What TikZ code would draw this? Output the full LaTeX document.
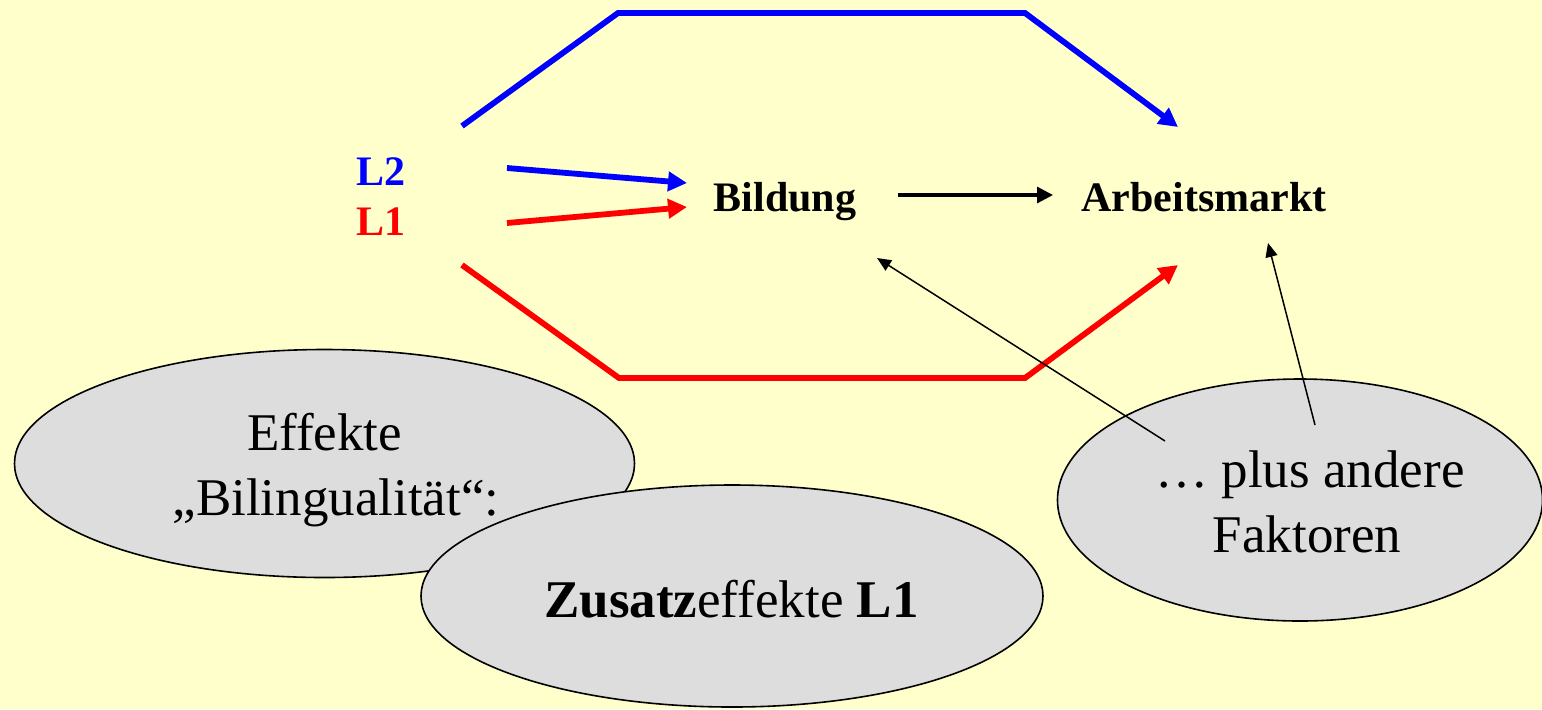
\documentclass[tikz,border=0pt]{standalone}
\usepackage{fontspec}
\setmainfont{Liberation Serif}
\usetikzlibrary{arrows.meta}
\definecolor{bgyellow}{HTML}{FFFFCC}
\definecolor{ellgray}{HTML}{DDDDDD}
\definecolor{myblue}{HTML}{0000FF}
\definecolor{myred}{HTML}{FF0000}
\tikzset{
  lbl/.style={font=\fontsize{21}{25}\selectfont\bfseries, inner sep=0pt, anchor=base},
  elltext/.style={font=\fontsize{26.5}{32}\selectfont, inner sep=0pt, anchor=base},
  ellshape/.style={fill=ellgray, draw=black, line width=0.8pt},
  thickpath/.style={line width=2.9pt, line join=miter, -{Triangle[length=9.5pt,width=9.5pt]}},
  medarrow/.style={line width=1.6pt, -{Triangle[length=8pt,width=8pt]}},
  thinarrow/.style={line width=0.75pt, -{Triangle[length=7pt,width=6pt]}}
}
\begin{document}
\begin{tikzpicture}[x=0.5pt,y=-0.5pt]
\fill[bgyellow] (0,0) rectangle (1542,709);
\useasboundingbox (0,0) rectangle (1542,709);

% ellipses
\path[ellshape] (324.5,463.5) ellipse [x radius=310, y radius=114];
\path[ellshape] (732,596) ellipse [x radius=311, y radius=111];
\path[ellshape] (1300,500) ellipse [x radius=242.5, y radius=121];

% labels
\node[lbl, text=myblue] (L2) at (381,185) {L2};
\node[lbl, text=myred] (L1) at (381,235) {L1};
\node[lbl] (bild) at (785,211) {Bildung};
\node[lbl] (arbeit) at (1204,211) {Arbeitsmarkt};

% ellipse texts
\node[elltext] (eff1) at (324.5,450) {Effekte};
\node[elltext] (eff2) at (336,515) {„Bilingualität“:};
\node[elltext] (zus) at (731.5,617) {\textbf{Zusatz}effekte \textbf{L1}};
\node[elltext] (plus1) at (1310,487) {… plus andere};
\node[elltext] (plus2) at (1307,552) {Faktoren};

% connector end points
\coordinate (bs) at (462,126);
\coordinate (b1) at (618,13);
\coordinate (b2) at (1025,13);
\coordinate (bt) at (1178,127);
\coordinate (rs) at (462,265);
\coordinate (r1) at (619,378);
\coordinate (r2) at (1025,378);
\coordinate (rt) at (1178,265);
\coordinate (l2s) at (507,168);
\coordinate (l2t) at (687,183);
\coordinate (l1s) at (507,223);
\coordinate (l1t) at (687,207);
\coordinate (ba) at (898,195);
\coordinate (bb) at (1053,195);
\coordinate (f1s) at (1165,441);
\coordinate (f1t) at (877,258);
\coordinate (f2s) at (1315,425);
\coordinate (f2t) at (1268,243);

% connectors
\draw[thickpath, draw=myblue] (bs) -- (b1) -- (b2) -- (bt);
\draw[thickpath, draw=myred] (rs) -- (r1) -- (r2) -- (rt);
\draw[thickpath, draw=myblue] (l2s) -- (l2t);
\draw[thickpath, draw=myred] (l1s) -- (l1t);
\draw[medarrow] (ba) -- (bb);
\draw[thinarrow] (f1s) -- (f1t);
\draw[thinarrow] (f2s) -- (f2t);
\end{tikzpicture}
\end{document}
